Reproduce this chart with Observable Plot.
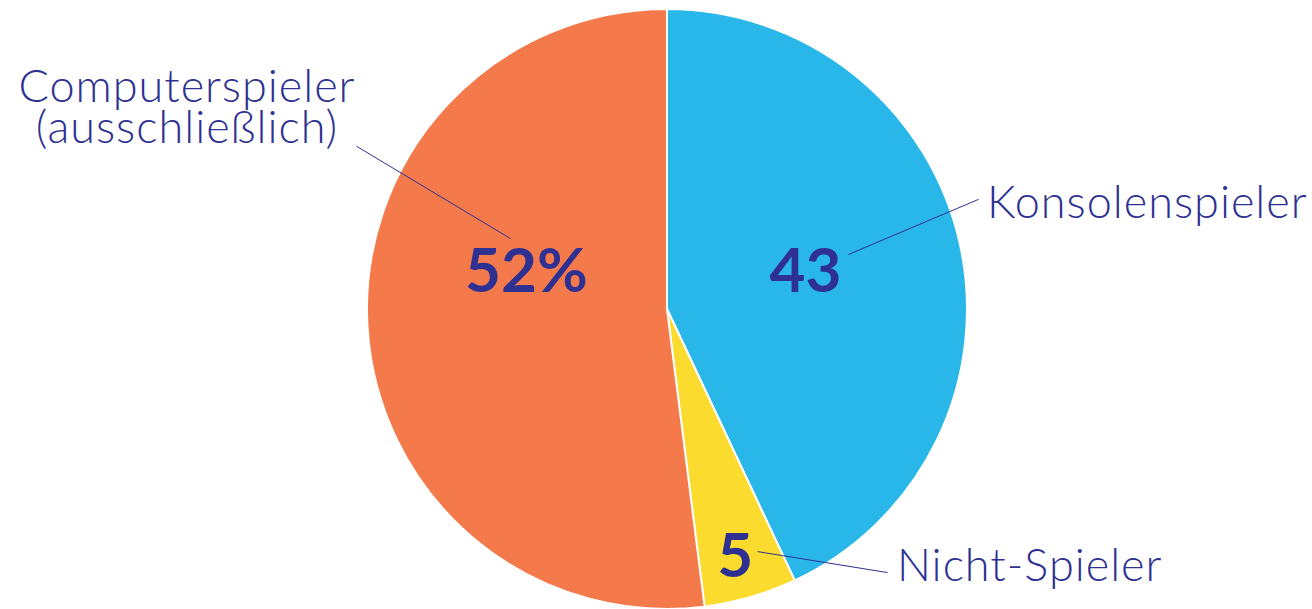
<!DOCTYPE html>
<html><head><meta charset="utf-8">
<script src="https://cdn.jsdelivr.net/npm/d3@7"></script>
<script src="https://cdn.jsdelivr.net/npm/@observablehq/plot@0.6"></script>
<style>html,body{margin:0;padding:0;background:#fff;overflow:hidden} .lbl text{letter-spacing:1px}</style>
</head><body><div id="chart"></div>
<script>
// ---- data ----
const categories = ["Konsolenspieler", "Nicht-Spieler", "Computerspieler\n(ausschließlich)"];
const values = [43, 5, 52];
const valueLabels = ["43", "5", "52%"];
const colors = ["#29B6E9", "#FBDC2E", "#F47A4C"];

// ---- annotation layout (polar: degrees clockwise from top, radius in pie radii) ----
const numberPos  = [{a: 75.0, r: 0.476}, {a: 164.7, r: 0.857}, {a: 284.7, r: 0.486}];
const leaderFrom = [{a: 73.1, r: 0.63},  {a: 159.6, r: 0.861}, {a: 294.3, r: 0.574}];
const leaderTo   = [{a: 70.5, r: 1.10},  {a: 140.1, r: 1.143}, {a: 297.7, r: 1.171}];
const labelPos   = [{a: 71.6, r: 1.122}, {a: 138.3, r: 1.150}, {a: 292.6, r: 1.735}];
const labelAnchor = ["start", "start", "middle"];

const W = 1312, H = 609, R = 300, CX = 667, CY = 309;
const ink = "#2E3192";
const px = p => p.r * Math.sin(p.a * Math.PI / 180);
const py = p => -p.r * Math.cos(p.a * Math.PI / 180);

const rows = categories.map((c, i) => ({
  category: c, value: values[i], label: valueLabels[i], color: colors[i],
  nx: px(numberPos[i]), ny: py(numberPos[i]),
  x1: px(leaderFrom[i]), y1: py(leaderFrom[i]),
  x2: px(leaderTo[i]), y2: py(leaderTo[i]),
  lx: px(labelPos[i]), ly: py(labelPos[i]),
  anchor: labelAnchor[i]
}));

const pieMark = (index, scales) => {
  const cx = scales.x(0), cy = scales.y(0), r = scales.x(1) - scales.x(0);
  const arcs = d3.pie().sort(null).value(d => d.value)(rows);
  const arc = d3.arc().innerRadius(0).outerRadius(r);
  const g = d3.create("svg:g").attr("transform", `translate(${cx},${cy})`);
  g.selectAll("path").data(arcs).join("path")
    .attr("d", arc)
    .attr("fill", d => d.data.color)
    .attr("stroke", "#fff")
    .attr("stroke-width", 2)
    .attr("stroke-linejoin", "round");
  return g.node();
};

const chart = Plot.plot({
  width: W, height: H,
  margin: 0,
  style: {background: "#fff", fontFamily: "Lato, sans-serif"},
  x: {domain: [-CX / R, (W - CX) / R], range: [0, W], axis: null},
  y: {domain: [-CY / R, (H - CY) / R], range: [0, H], axis: null},
  marks: [
    pieMark,
    Plot.link(rows, {x1: "x1", y1: "y1", x2: "x2", y2: "y2", stroke: ink, strokeWidth: 1}),
    Plot.text(rows, {x: "nx", y: "ny", text: "label", fill: ink, fontSize: 62, fontWeight: "bold", textAnchor: "middle", lineAnchor: "middle"}),
    Plot.text(rows.filter(d => d.anchor === "start"), {x: "lx", y: "ly", text: "category", fill: ink, fontSize: 45, fontWeight: 300, textAnchor: "start", lineAnchor: "middle", className: "lbl"}),
    Plot.text(rows.filter(d => d.anchor === "middle"), {x: "lx", y: "ly", text: "category", fill: ink, fontSize: 45, fontWeight: 300, textAnchor: "middle", lineAnchor: "middle", lineHeight: 0.9, className: "lbl"})
  ]
});
document.getElementById("chart").append(chart);
</script>
</body></html>
